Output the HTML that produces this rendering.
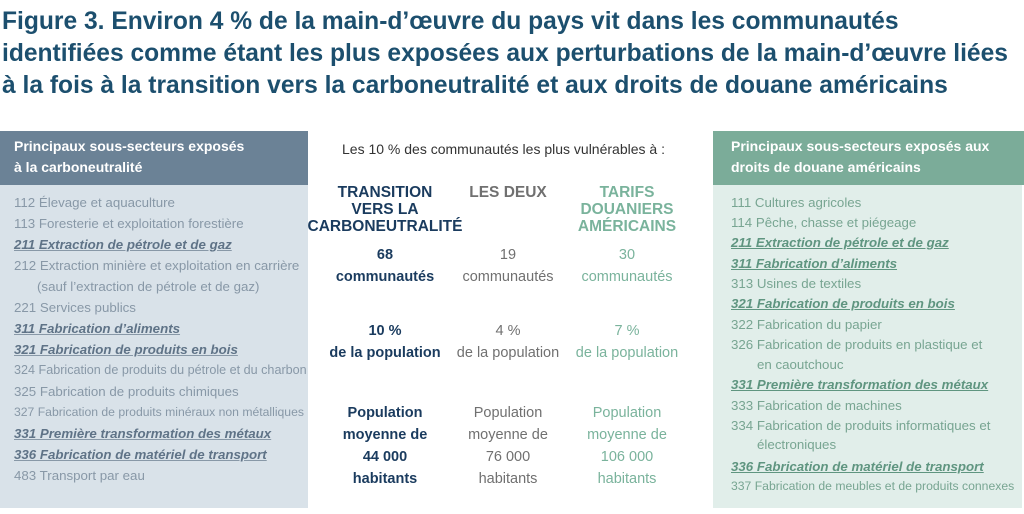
<!DOCTYPE html>
<html><head><meta charset="utf-8"><style>
body{margin:0;width:1024px;height:514px;background:#fff;font-family:"Liberation Sans",sans-serif;position:relative;overflow:hidden}
.a{position:absolute;white-space:nowrap}
.t{left:2px;font-size:24.6px;color:#1c4f6e;font-weight:bold}
.lh{background:#6b8296;color:#fff;font-weight:bold;font-size:14px;line-height:21px}
.lb{background:#d9e2e9}
.rh{background:#7bac99;color:#fff;font-weight:bold;font-size:14px;line-height:21px}
.rb{background:#e1eeea}
.li{font-size:13.3px;color:#8898a7}
.li.i{font-style:italic;font-weight:bold;color:#5f7387;text-decoration:underline;text-decoration-color:#8898a7}
.ri{font-size:13.3px;color:#78a592}
.ri.i{font-style:italic;font-weight:bold;color:#5f9580;text-decoration:underline}
.c{text-align:center;transform:translateX(-50%);font-size:14.5px;line-height:22px}
.n{color:#1a3b5e}.g{color:#707070}.v{color:#7ab39c}
.h{font-weight:900;font-size:15.5px;line-height:17px}
</style></head><body>
<div class="a t" style="top:8px">Figure 3. Environ 4 % de la main-d’œuvre du pays vit dans les communautés</div>
<div class="a t" style="top:40px">identifiées comme étant les plus exposées aux perturbations de la main-d’œuvre liées</div>
<div class="a t" style="top:72px">à la fois à la transition vers la carboneutralité et aux droits de douane américains</div>

<div class="a lh" style="left:0;top:131px;width:294px;height:43px;padding:5px 0 6px 14px;white-space:normal">Principaux sous-secteurs exposés<br>à la carboneutralité</div>
<div class="a lb" style="left:0;top:185px;width:308px;height:323px"></div>
<div class="a rh" style="left:713px;top:131px;width:295px;height:43px;padding:5px 0 6px 18px;white-space:normal">Principaux sous-secteurs exposés aux<br>droits de douane américains</div>
<div class="a rb" style="left:713px;top:185px;width:309px;height:323px"></div>

<div class="a li" style="left:14px;top:195px">112 Élevage et aquaculture</div>
<div class="a li" style="left:14px;top:216px">113 Foresterie et exploitation forestière</div>
<div class="a li i" style="left:14px;top:237px">211 Extraction de pétrole et de gaz</div>
<div class="a li" style="left:14px;top:258px">212 Extraction minière et exploitation en carrière</div>
<div class="a li" style="left:37px;top:279px">(sauf l’extraction de pétrole et de gaz)</div>
<div class="a li" style="left:14px;top:300px">221 Services publics</div>
<div class="a li i" style="left:14px;top:321px">311 Fabrication d’aliments</div>
<div class="a li i" style="left:14px;top:342px">321 Fabrication de produits en bois</div>
<div class="a li" style="left:14px;top:363px;font-size:12.6px">324 Fabrication de produits du pétrole et du charbon</div>
<div class="a li" style="left:14px;top:384px">325 Fabrication de produits chimiques</div>
<div class="a li" style="left:14px;top:405px;font-size:12.2px">327 Fabrication de produits minéraux non métalliques</div>
<div class="a li i" style="left:14px;top:426px">331 Première transformation des métaux</div>
<div class="a li i" style="left:14px;top:447px">336 Fabrication de matériel de transport</div>
<div class="a li" style="left:14px;top:468px">483 Transport par eau</div>

<div class="a ri" style="left:731px;top:195px">111 Cultures agricoles</div>
<div class="a ri" style="left:731px;top:215px">114 Pêche, chasse et piégeage</div>
<div class="a ri i" style="left:731px;top:235px">211 Extraction de pétrole et de gaz</div>
<div class="a ri i" style="left:731px;top:256px">311 Fabrication d’aliments</div>
<div class="a ri" style="left:731px;top:276px">313 Usines de textiles</div>
<div class="a ri i" style="left:731px;top:296px">321 Fabrication de produits en bois</div>
<div class="a ri" style="left:731px;top:317px">322 Fabrication du papier</div>
<div class="a ri" style="left:731px;top:337px">326 Fabrication de produits en plastique et</div>
<div class="a ri" style="left:757px;top:357px">en caoutchouc</div>
<div class="a ri i" style="left:731px;top:377px">331 Première transformation des métaux</div>
<div class="a ri" style="left:731px;top:398px">333 Fabrication de machines</div>
<div class="a ri" style="left:731px;top:418px">334 Fabrication de produits informatiques et</div>
<div class="a ri" style="left:757px;top:437px">électroniques</div>
<div class="a ri i" style="left:731px;top:459px">336 Fabrication de matériel de transport</div>
<div class="a ri" style="left:731px;top:479px;font-size:12.2px">337 Fabrication de meubles et de produits connexes</div>

<div class="a" style="left:342px;top:141px;font-size:14px;color:#333">Les 10 % des communautés les plus vulnérables à :</div>

<div class="a c h n" style="left:385px;top:184px">TRANSITION<br>VERS LA<br>CARBONEUTRALITÉ</div>
<div class="a c h g" style="left:508px;top:184px">LES DEUX</div>
<div class="a c h v" style="left:627px;top:184px">TARIFS<br>DOUANIERS<br>AMÉRICAINS</div>

<div class="a c n" style="left:385px;top:244px;font-weight:bold">68<br>communautés</div>
<div class="a c g" style="left:508px;top:244px">19<br>communautés</div>
<div class="a c v" style="left:627px;top:244px">30<br>communautés</div>

<div class="a c n" style="left:385px;top:320px;font-weight:bold">10 %<br>de la population</div>
<div class="a c g" style="left:508px;top:320px">4 %<br>de la population</div>
<div class="a c v" style="left:627px;top:320px">7 %<br>de la population</div>

<div class="a c n" style="left:385px;top:402px;font-weight:bold">Population<br>moyenne de<br>44 000<br>habitants</div>
<div class="a c g" style="left:508px;top:402px">Population<br>moyenne de<br>76 000<br>habitants</div>
<div class="a c v" style="left:627px;top:402px">Population<br>moyenne de<br>106 000<br>habitants</div>
</body></html>
